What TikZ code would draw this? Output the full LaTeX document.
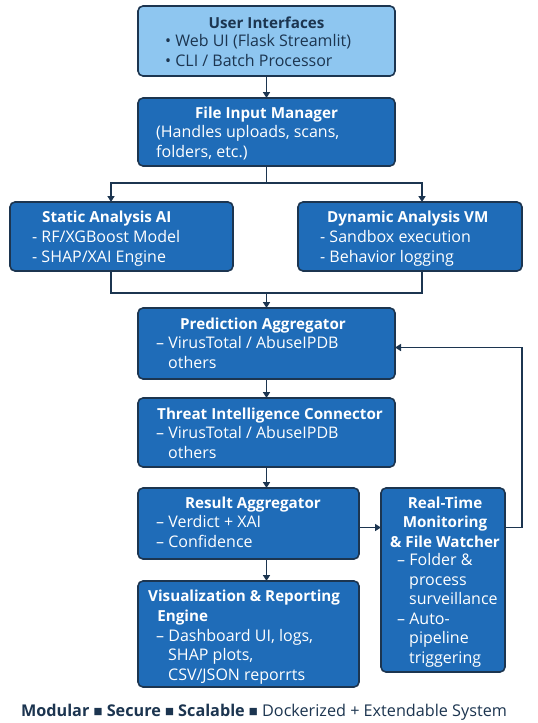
\documentclass[tikz,border=0pt]{standalone}
\usepackage{fontspec}
\setmainfont{Open Sans}
\newfontfamily\symfnt{DejaVu Sans}
\usetikzlibrary{arrows.meta,calc}
\definecolor{boxblue}{HTML}{1F6CB8}
\definecolor{lightblue}{HTML}{8EC6F0}
\definecolor{navy}{HTML}{1C3550}
\newcommand{\sqsep}{\raisebox{1.2pt}{\symfnt\fontsize{9.5}{9.5}\selectfont■}}
\begin{document}
\begin{tikzpicture}[x=1pt,y=1pt,
  box/.style={draw=navy, line width=1.6pt, rounded corners=5pt, fill=boxblue, inner sep=0pt, outer sep=0pt},
  lbox/.style={box, fill=lightblue},
  ttl/.style={font=\fontsize{15.2}{19.5}\selectfont\bfseries, text=white, inner sep=0pt},
  txt/.style={font=\fontsize{16}{19.5}\selectfont, text=white, inner sep=0pt, align=left},
  conn/.style={draw=navy, line width=1.6pt},
  arr/.style={conn, -{Triangle[length=6pt,width=7pt]}},
]
\fill[white] (0,0) rectangle (538,-723);
\useasboundingbox (0,0) rectangle (538,-723);

% boxes
\node[lbox, minimum width=257, minimum height=70] (ui) at (266.5,-41) {};
\node[box, minimum width=257, minimum height=68] (fim) at (266.5,-132) {};
\node[box, minimum width=223, minimum height=69] (static) at (121.5,-236.5) {};
\node[box, minimum width=224, minimum height=69] (dyn) at (410,-236.5) {};
\node[box, minimum width=257, minimum height=71] (pred) at (266.5,-343.5) {};
\node[box, minimum width=257, minimum height=69] (threat) at (266.5,-432.5) {};
\node[box, minimum width=221, minimum height=71] (result) at (248.5,-523.5) {};
\node[box, minimum width=221, minimum height=106] (vis) at (248.5,-634) {};
\node[box, minimum width=124, minimum height=184] (rt) at (443,-580) {};

% texts (base anchor = baseline of last line)
\node[ttl, text=navy, anchor=base] (uit) at (266.5,-28) {User Interfaces};
\node[txt, text=navy, anchor=base west] (uib) at (165,-66) {\textbullet\ Web UI (Flask Streamlit)\\\textbullet\ CLI / Batch Processor};

\node[ttl, anchor=base] (fimt) at (266.5,-118) {File Input Manager};
\node[txt, anchor=base west] (fimb) at (156,-157) {(Handles uploads, scans,\\folders, etc.)};

\node[ttl, anchor=base west] (statt) at (42,-222) {Static Analysis AI};
\node[txt, anchor=base west] (statb) at (32,-262) {- RF/XGBoost Model\\- SHAP/XAI Engine};

\node[ttl, anchor=base west] (dynt) at (327,-222) {Dynamic Analysis VM};
\node[txt, anchor=base west] (dynb) at (320,-262) {- Sandbox execution\\- Behavior logging};

\node[ttl, anchor=base] (predt) at (263,-329) {Prediction Aggregator};
\node[txt, anchor=base west] (predb) at (156,-368) {– VirusTotal / AbuseIPDB\\\hspace*{0.75em}others};

\node[ttl, anchor=base west] (threatt) at (157,-419) {Threat Intelligence Connector};
\node[txt, anchor=base west] (threatb) at (156,-458) {– VirusTotal / AbuseIPDB\\\hspace*{0.75em}others};

\node[ttl, anchor=base] (rest) at (253,-508) {Result Aggregator};
\node[txt, anchor=base west] (resb) at (156,-547) {– Verdict + XAI\\– Confidence};

\node[ttl, anchor=base west, align=left] (vist) at (148,-621) {Visualization \& Reporting\\\hspace*{0.6em}Engine};
\node[txt, anchor=base west] (visb) at (156,-680) {– Dashboard UI, logs,\\\hspace*{0.75em}SHAP plots,\\\hspace*{0.75em}CSV/JSON reporrts};

\node[ttl, anchor=base, align=center] (rtt) at (445,-547) {Real-Time\\Monitoring\\\& File Watcher};
\node[txt, anchor=base west] (rtb) at (397,-663) {– Folder \&\\\hspace*{0.75em}process\\\hspace*{0.75em}surveillance\\– Auto-\\\hspace*{0.75em}pipeline\\\hspace*{0.75em}triggering};

% footer
\node[anchor=base, text=navy, inner sep=0pt, font=\fontsize{16.2}{18}\selectfont] (foot) at (264,-716)
  {\textbf{Modular} \sqsep\ \textbf{Secure} \sqsep\ \textbf{Scalable} \sqsep\ Dockerized + Extendable System};

% connectors
\draw[arr] (ui.south) -- (fim.north);
\coordinate (split) at ($(fim.south)+(0,-17)$);
\draw[conn] (fim.south) -- (split);
\draw[arr] (split) -| ([xshift=-10.5]static.north);
\draw[arr] (split) -| ([xshift=12]dyn.north);
\coordinate (merge) at ($(pred.north)+(0,-293+308)$);
\draw[conn] ([xshift=-10.5]static.south) |- (merge);
\draw[conn] ([xshift=12]dyn.south) |- (merge);
\draw[arr] (merge) -- (pred.north);
\draw[arr] (pred.south) -- (threat.north);
\draw[arr] (threat.south) -- (threat.south |- result.north);
\draw[arr] (pred.south |- result.south) -- (pred.south |- vis.north);
\draw[arr] ([yshift=-4]result.east) -- ([yshift=-4]result.east -| rt.west);
\draw[arr] ([yshift=-4]rt.east |- result.east) -- ++(17,0) |- ([yshift=-4]pred.east);
\end{tikzpicture}
\end{document}
